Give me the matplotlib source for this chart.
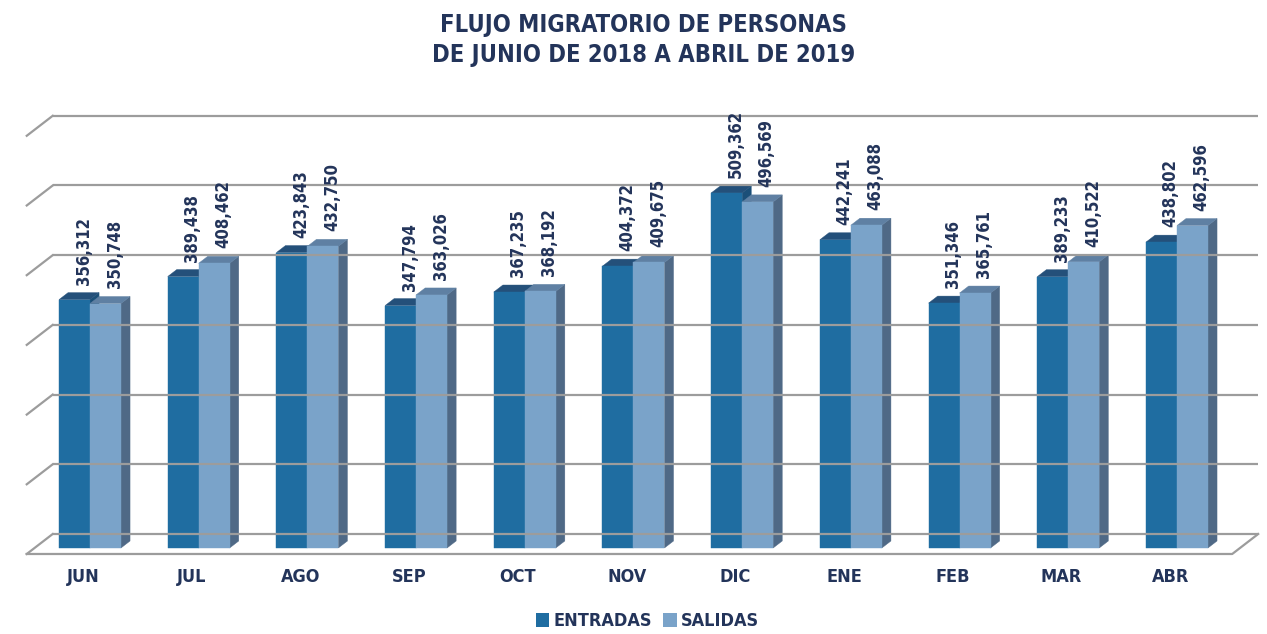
import matplotlib

matplotlib.use("Agg")
import matplotlib.pyplot as plt
from matplotlib.patches import Polygon, Patch

"""
Data read off the reference chart
"""

months = ["JUN", "JUL", "AGO", "SEP", "OCT", "NOV", "DIC", "ENE", "FEB", "MAR", "ABR"]
entradas = [356312, 389438, 423843, 347794, 367235, 404372, 509362, 442241, 351346, 389233, 438802]
salidas = [350748, 408462, 432750, 363026, 368192, 409675, 496569, 463088, 365761, 410522, 462596]
grid_values = [0, 100000, 200000, 300000, 400000, 500000, 600000]
series_names = ["ENTRADAS", "SALIDAS"]
title = "FLUJO MIGRATORIO DE PERSONAS\nDE JUNIO DE 2018 A ABRIL DE 2019"

# fake 3d look: depth t runs from 0 (floor front) to 1 (back wall)
DX = 0.239
DY = 28.7
T0 = 0.3
T1 = 0.65
W = 0.285

plt.rcParams["font.family"] = ["DejaVu Sans"]
plt.rcParams["font.stretch"] = "condensed"
plt.rcParams["font.weight"] = "bold"

navy = "#23345a"
grid_col = "#9c9c9c"
colors = {
    "ENTRADAS": ("#1f6da1", "#24507a", "#1b4f78"),
    "SALIDAS": ("#7aa3c9", "#5f80a3", "#4f6986"),
}


def proj(x, v, t):
    return (x + t * DX, v + (t - T0) * DY)


def draw_bar(ax, x0, v, cols):
    front, top, side = cols
    pts_front = [proj(x0, 0, T0), proj(x0 + W, 0, T0), proj(x0 + W, v, T0), proj(x0, v, T0)]
    pts_top = [proj(x0, v, T0), proj(x0 + W, v, T0), proj(x0 + W, v, T1), proj(x0, v, T1)]
    pts_side = [proj(x0 + W, 0, T0), proj(x0 + W, 0, T1), proj(x0 + W, v, T1), proj(x0 + W, v, T0)]
    ax.add_patch(Polygon(pts_side, closed=True, facecolor=side, edgecolor=side, lw=0.3))
    ax.add_patch(Polygon(pts_top, closed=True, facecolor=top, edgecolor=top, lw=0.3))
    ax.add_patch(Polygon(pts_front, closed=True, facecolor=front, edgecolor=front, lw=0.3))


fig = plt.figure(figsize=(12.67, 6.34), dpi=100)
ax = fig.add_axes([0, 0, 1, 1])
ax.set_xlim(-0.756, 10.90)
ax.set_ylim(-123.4, 786.2)
ax.axis("off")

xl, xr = -0.51, 10.58

# back wall gridlines + left wall diagonals
for g in grid_values:
    g = g / 1000
    a, b = proj(xl, g, 1), proj(xr, g, 1)
    ax.plot([a[0], b[0]], [a[1], b[1]], color=grid_col, lw=1.6, solid_capstyle="butt")
    c = proj(xl, g, 0)
    ax.plot([c[0], a[0]], [c[1], a[1]], color=grid_col, lw=1.6)

# floor outline
f0, f1, f2 = proj(xl, 0, 0), proj(xr, 0, 0), proj(xr, 0, 1)
ax.plot([f0[0], f1[0], f2[0]], [f0[1], f1[1], f2[1]], color=grid_col, lw=1.6)

for i, m in enumerate(months):
    for k, (name, vals) in enumerate(zip(series_names, [entradas, salidas])):
        v = vals[i] / 1000
        x0 = i - W + k * W
        draw_bar(ax, x0, v, colors[name])
        lx, ly = proj(x0 + W / 2, v, T1)
        ax.text(lx, ly + 11.5, f"{vals[i]:,}", rotation=90, ha="center", va="bottom",
                fontsize=12, color=navy)
    ax.text(i + 0.01, -42, m, ha="center", va="center", fontsize=13, color=navy)

fig.text(0.508, (634 - 40) / 634, title, ha="center", va="center", fontsize=17,
         color=navy, linespacing=1.32)

handles = [Patch(facecolor=colors[n][0], edgecolor="none") for n in series_names]
leg = fig.legend(handles, series_names, loc="center", bbox_to_anchor=(0.511, 0.02),
                 ncol=2, frameon=False, fontsize=13, handlelength=0.75, handleheight=0.75,
                 handletextpad=0.25, columnspacing=0.6)
for t in leg.get_texts():
    t.set_color(navy)

fig.savefig("out.png", dpi=100)
